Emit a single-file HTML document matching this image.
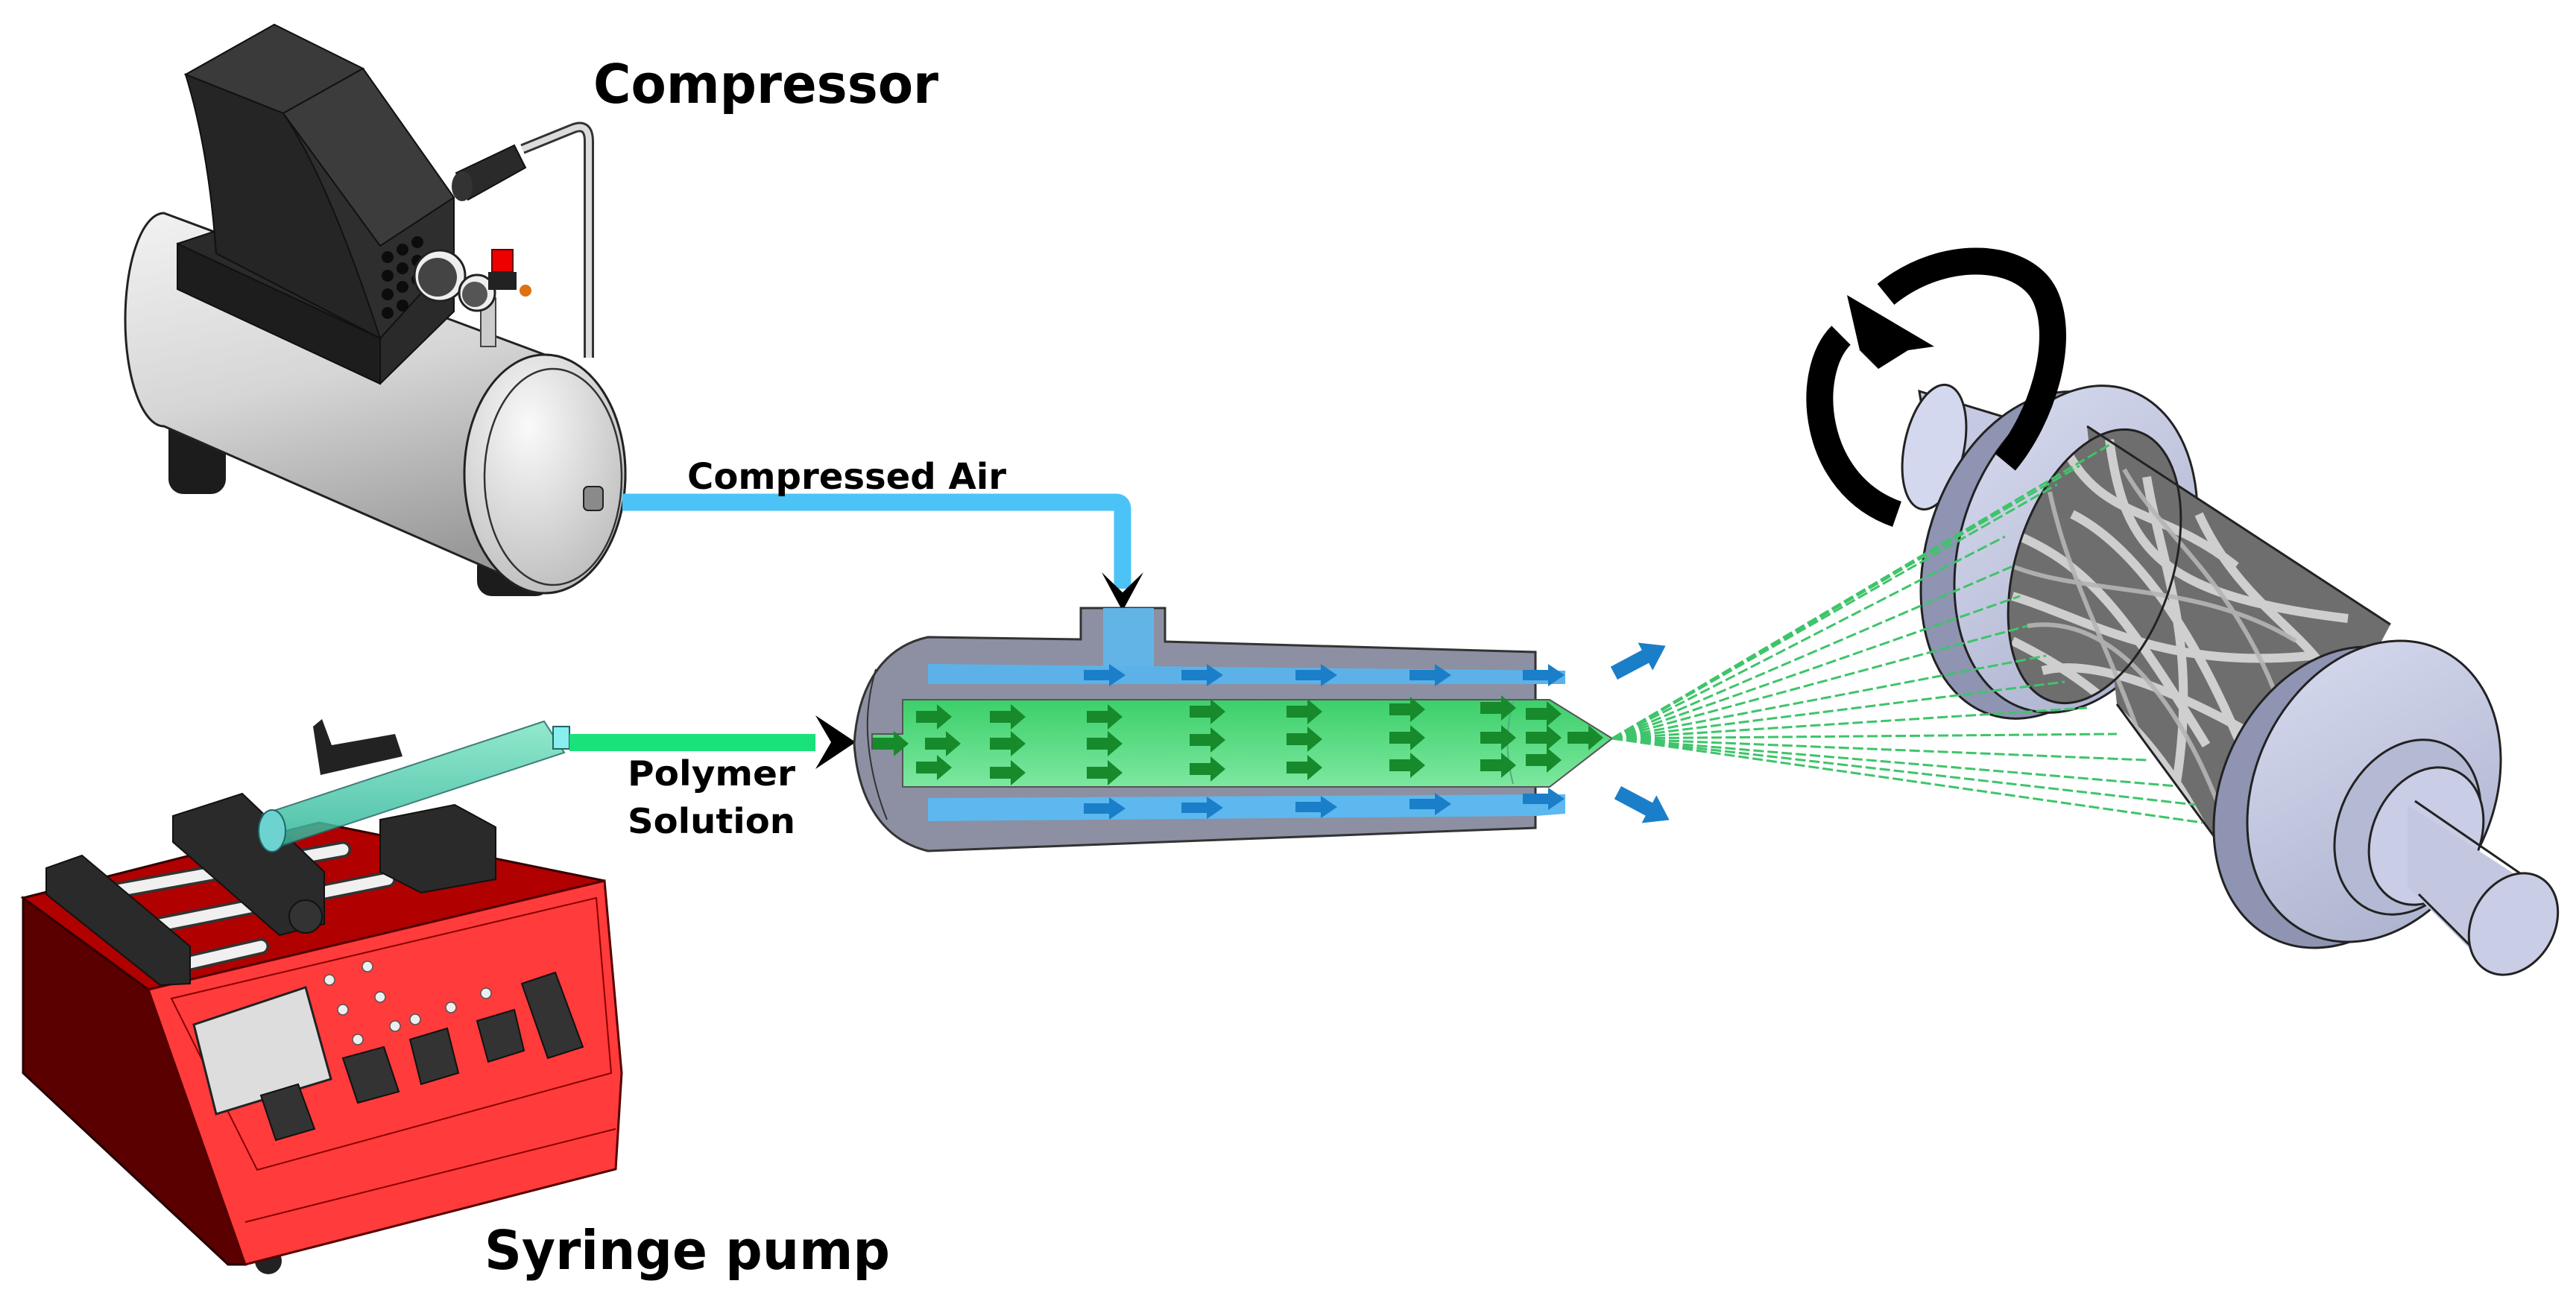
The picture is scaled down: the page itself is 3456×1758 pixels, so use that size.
<!DOCTYPE html>
<html><head><meta charset="utf-8"><style>
html,body{margin:0;padding:0;background:#fff}
svg{display:block}
text{font-family:"DejaVu Sans","Liberation Sans",sans-serif;font-weight:bold;fill:#000}
</style></head><body>
<svg width="3456" height="1758" viewBox="0 0 3456 1758" xmlns="http://www.w3.org/2000/svg">
<defs>
<linearGradient id="tank" x1="0" y1="0" x2="0.3" y2="1"><stop offset="0" stop-color="#f2f2f2"/><stop offset="0.5" stop-color="#d6d6d6"/><stop offset="1" stop-color="#9a9a9a"/></linearGradient>
<radialGradient id="tankend" cx="0.4" cy="0.3" r="0.8"><stop offset="0" stop-color="#fafafa"/><stop offset="1" stop-color="#b8b8b8"/></radialGradient>
<linearGradient id="green" x1="0" y1="0" x2="0" y2="1"><stop offset="0" stop-color="#3ccf6a"/><stop offset="1" stop-color="#7de8a0"/></linearGradient>
<linearGradient id="drum" x1="0" y1="0" x2="1" y2="1"><stop offset="0" stop-color="#d8dcf0"/><stop offset="1" stop-color="#a9aecb"/></linearGradient>
<linearGradient id="syr" x1="0" y1="0" x2="0" y2="1"><stop offset="0" stop-color="#7fe6c4"/><stop offset="1" stop-color="#2fb59a"/></linearGradient>
<clipPath id="bodyclip">
<ellipse cx="2810" cy="760" rx="105" ry="190" transform="rotate(18 2810 760)"/>
<path d="M2800,572 L3207,838 L3020,1190 L2840,945 Z"/>
</clipPath>
<g id="ga"><path d="M-24,-8 L4,-8 L4,-17 L24,0 L4,17 L4,8 L-24,8 Z" fill="#178a2c"/></g>
<g id="ba"><path d="M-28,-7 L6,-7 L6,-15 L28,0 L6,15 L6,7 L-28,7 Z" fill="#1a7fc8"/></g>
</defs>

<!-- ============ COMPRESSOR ============ -->
<rect x="226" y="540" width="77" height="123" rx="20" fill="#1c1c1c"/>
<rect x="640" y="740" width="99" height="60" rx="20" fill="#1c1c1c"/>
<path d="M220,286 L731,476 A108,160 0 0 1 731,796 L220,572 A52,143 0 0 1 220,286 Z" fill="url(#tank)" stroke="#222" stroke-width="3"/>
<ellipse cx="731" cy="636" rx="108" ry="160" fill="url(#tankend)" stroke="#222" stroke-width="3"/>
<ellipse cx="742" cy="640" rx="92" ry="145" fill="none" stroke="#333" stroke-width="2.5"/>
<rect x="783" y="653" width="26" height="32" rx="6" fill="#8a8a8a" stroke="#222" stroke-width="2"/>
<path d="M701,200 L770,172 Q790,165 790,190 L790,480" fill="none" stroke="#333" stroke-width="14"/>
<path d="M701,200 L770,172 Q790,165 790,190 L790,480" fill="none" stroke="#dcdcdc" stroke-width="8"/>
<path d="M238,327 L410,270 L609,340 L609,418 L510,515 L238,388 Z" fill="#2a2a2a" stroke="#111" stroke-width="2"/>
<path d="M238,327 L510,454 L510,515 L238,388 Z" fill="#1d1d1d" stroke="#111" stroke-width="2"/>
<path d="M249,100 L368,33 L487,92 L609,265 L609,345 L510,454 L290,340 Q280,200 249,100 Z" fill="#2e2e2e" stroke="#111" stroke-width="2"/>
<path d="M249,100 L368,33 L487,92 L380,152 Z" fill="#3a3a3a" stroke="#111" stroke-width="2"/>
<path d="M380,152 L487,92 L609,265 L510,330 Z" fill="#3c3c3c" stroke="#111" stroke-width="2"/>
<path d="M249,100 L380,152 Q440,240 510,454 L290,340 Q280,200 249,100 Z" fill="#252525" stroke="#111" stroke-width="2"/>
<g fill="#0c0c0c">
<circle cx="520" cy="345" r="8"/><circle cx="540" cy="335" r="8"/><circle cx="560" cy="325" r="8"/>
<circle cx="520" cy="370" r="8"/><circle cx="540" cy="360" r="8"/><circle cx="560" cy="350" r="8"/>
<circle cx="520" cy="395" r="8"/><circle cx="540" cy="385" r="8"/><circle cx="560" cy="375" r="8"/>
<circle cx="520" cy="420" r="8"/><circle cx="540" cy="410" r="8"/>
</g>
<path d="M612,232 L690,195 L705,225 L628,268 Z" fill="#2a2a2a" stroke="#111" stroke-width="2"/>
<ellipse cx="620" cy="250" rx="14" ry="20" fill="#333"/>
<circle cx="590" cy="370" r="34" fill="#eee" stroke="#222" stroke-width="3"/>
<circle cx="587" cy="372" r="26" fill="#444"/>
<rect x="645" y="400" width="20" height="65" fill="#ccc" stroke="#444" stroke-width="2"/>
<circle cx="640" cy="393" r="24" fill="#eee" stroke="#222" stroke-width="3"/>
<circle cx="637" cy="395" r="17" fill="#555"/>
<rect x="660" y="335" width="28" height="30" fill="#e00" stroke="#600" stroke-width="2"/>
<rect x="655" y="365" width="38" height="24" fill="#222"/>
<circle cx="705" cy="390" r="8" fill="#e07010"/>

<text x="796" y="138" font-size="72" textLength="463" lengthAdjust="spacingAndGlyphs">Compressor</text>

<path d="M835,674 L1497,674 Q1506,674 1506,684 L1506,790" fill="none" stroke="#4cc3f7" stroke-width="23"/>
<path d="M1478,768 L1506,795 L1534,768 L1506,820 Z" fill="#000"/>
<text x="922" y="656" font-size="48" textLength="428" lengthAdjust="spacingAndGlyphs">Compressed Air</text>

<!-- ============ SYRINGE PUMP ============ -->
<circle cx="360" cy="1692" r="18" fill="#222"/><circle cx="735" cy="1548" r="18" fill="#222"/>
<path d="M31,1205 L199,1328 L329,1697 L306,1697 L31,1440 Z" fill="#5a0000" stroke="#220000" stroke-width="3"/>
<path d="M31,1205 L428,1104 L811,1182 L199,1328 Z" fill="#b00000" stroke="#300" stroke-width="3"/>
<path d="M199,1328 L811,1182 L834,1440 L826,1569 L329,1697 Z" fill="#ff3b3b" stroke="#500" stroke-width="3"/>
<path d="M230,1340 L800,1205 L820,1440 L345,1570 Z" fill="none" stroke="#800" stroke-width="2"/>
<path d="M329,1640 L826,1515" stroke="#800" stroke-width="2"/>
<path d="M260,1375 L410,1325 L444,1448 L290,1495 Z" fill="#ddd" stroke="#222" stroke-width="3"/>
<g fill="#333" stroke="#111" stroke-width="2">
<path d="M350,1470 L400,1455 L422,1515 L370,1530 Z"/>
<path d="M460,1420 L515,1405 L535,1465 L480,1480 Z"/>
<path d="M550,1395 L600,1380 L615,1440 L565,1455 Z"/>
<path d="M640,1370 L690,1355 L703,1410 L655,1425 Z"/>
<path d="M700,1320 L745,1305 L782,1405 L735,1420 Z"/>
</g>
<g fill="#eee" stroke="#555" stroke-width="1.5">
<circle cx="442" cy="1315" r="7"/><circle cx="493" cy="1297" r="7"/><circle cx="460" cy="1355" r="7"/><circle cx="510" cy="1338" r="7"/>
<circle cx="480" cy="1395" r="7"/><circle cx="530" cy="1377" r="7"/><circle cx="557" cy="1368" r="7"/><circle cx="605" cy="1352" r="7"/><circle cx="652" cy="1333" r="7"/>
</g>
<g stroke="#333" stroke-width="22" stroke-linecap="round"><line x1="130" y1="1200" x2="460" y2="1140"/><line x1="170" y1="1250" x2="520" y2="1180"/><line x1="220" y1="1300" x2="350" y2="1270"/></g>
<g stroke="#f0f0f0" stroke-width="15" stroke-linecap="round"><line x1="130" y1="1200" x2="460" y2="1140"/><line x1="170" y1="1250" x2="520" y2="1180"/><line x1="220" y1="1300" x2="350" y2="1270"/></g>
<path d="M62,1165 L110,1148 L255,1270 L255,1320 L215,1322 L62,1200 Z" fill="#2a2a2a" stroke="#111" stroke-width="2"/>
<path d="M232,1095 L325,1065 L435,1170 L435,1240 L375,1255 L232,1130 Z" fill="#2a2a2a" stroke="#111" stroke-width="2"/>
<circle cx="410" cy="1230" r="22" fill="#333" stroke="#111" stroke-width="2"/>
<path d="M510,1100 L610,1080 L665,1110 L665,1180 L565,1198 L510,1170 Z" fill="#2a2a2a" stroke="#111" stroke-width="2"/>
<path d="M420,975 L432,965 L445,1000 L530,985 L540,1015 L430,1040 Z" fill="#222"/>
<path d="M352,1093 L730,968 L757,1010 L378,1135 Z" fill="url(#syr)" opacity="0.85" stroke="#266" stroke-width="2"/>
<ellipse cx="365" cy="1115" rx="18" ry="28" fill="#6cd3d0" stroke="#266" stroke-width="2"/>
<rect x="742" y="975" width="22" height="30" fill="#8ee" stroke="#266" stroke-width="2"/>

<rect x="764" y="985" width="330" height="23" fill="#19e27a"/>
<path d="M1094,960 L1148,996 L1094,1032 L1115,996 Z" fill="#000"/>
<text x="842" y="1054" font-size="46" textLength="225" lengthAdjust="spacingAndGlyphs">Polymer</text>
<text x="842" y="1118" font-size="46" textLength="225" lengthAdjust="spacingAndGlyphs">Solution</text>
<text x="650" y="1703" font-size="72" textLength="544" lengthAdjust="spacingAndGlyphs">Syringe pump</text>

<!-- ============ NOZZLE ============ -->
<path d="M1245,855 L1450,858 L1450,816 L1563,816 L1563,861 L2060,875 L2060,1111 L1245,1142 C1175,1125 1150,1060 1146,998 C1150,935 1175,870 1245,855 Z" fill="#8c90a2" stroke="#333" stroke-width="3"/>
<rect x="1480" y="816" width="68" height="90" fill="#63b4e6"/>
<path d="M1245,891 L2100,900 L2100,918 L1245,918 Z" fill="#5cb2e8"/>
<path d="M1245,1071 L2100,1066 L2100,1092 L2060,1095 L1245,1102 Z" fill="#5cb8ee"/>
<path d="M1211,939 L2079,939 L2163,991 L2079,1056 L1211,1056 L1211,1005 L1170,1005 L1170,985 L1211,985 Z" fill="url(#green)" stroke="#555" stroke-width="2"/>
<path d="M1175,898 Q1160,950 1165,998 Q1170,1050 1190,1100" fill="none" stroke="#333" stroke-width="2"/>
<path d="M2030,942 Q2015,995 2030,1052" fill="none" stroke="#5a8" stroke-width="2"/>
<g>
<use href="#ga" x="1253" y="962"/><use href="#ga" x="1352" y="962"/><use href="#ga" x="1482" y="962"/><use href="#ga" x="1620" y="955"/><use href="#ga" x="1750" y="955"/><use href="#ga" x="1888" y="952"/><use href="#ga" x="2010" y="950"/><use href="#ga" x="2071" y="958"/>
<use href="#ga" x="1195" y="998"/><use href="#ga" x="1265" y="998"/><use href="#ga" x="1352" y="998"/><use href="#ga" x="1482" y="998"/><use href="#ga" x="1620" y="993"/><use href="#ga" x="1750" y="992"/><use href="#ga" x="1888" y="990"/><use href="#ga" x="2010" y="990"/><use href="#ga" x="2071" y="990"/><use href="#ga" x="2127" y="990"/>
<use href="#ga" x="1253" y="1030"/><use href="#ga" x="1352" y="1037"/><use href="#ga" x="1482" y="1037"/><use href="#ga" x="1620" y="1032"/><use href="#ga" x="1750" y="1030"/><use href="#ga" x="1888" y="1027"/><use href="#ga" x="2010" y="1027"/><use href="#ga" x="2071" y="1020"/>
</g>
<g>
<use href="#ba" x="1482" y="906"/><use href="#ba" x="1613" y="906"/><use href="#ba" x="1766" y="906"/><use href="#ba" x="1919" y="906"/><use href="#ba" x="2071" y="906"/>
<use href="#ba" x="1482" y="1085"/><use href="#ba" x="1613" y="1084"/><use href="#ba" x="1766" y="1083"/><use href="#ba" x="1919" y="1079"/><use href="#ba" x="2071" y="1072"/>
<use href="#ba" transform="translate(2200,885) rotate(-28) scale(1.4)"/>
<use href="#ba" transform="translate(2205,1082) rotate(28) scale(1.4)"/>
</g>

<!-- ============ DRUM ============ -->
<path d="M2545,690 C2430,650 2420,500 2470,450" fill="none" stroke="#000" stroke-width="36"/>
<path d="M2575,525 L2690,560 L2700,690 L2600,680 Z" fill="#c5c9e2" stroke="#222" stroke-width="3"/>
<ellipse cx="2595" cy="600" rx="40" ry="85" transform="rotate(12 2595 600)" fill="#d4d8ee" stroke="#222" stroke-width="3"/>
<ellipse cx="2740" cy="745" rx="155" ry="225" transform="rotate(18 2740 745)" fill="#8e94b2" stroke="#222" stroke-width="3"/>
<ellipse cx="2785" cy="737" rx="155" ry="225" transform="rotate(18 2785 737)" fill="url(#drum)" stroke="#222" stroke-width="3"/>
<g clip-path="url(#bodyclip)">
<rect x="2650" y="520" width="600" height="700" fill="#6e6e6e"/>
<g fill="none" stroke="#e0e0e0" stroke-width="12" opacity="0.85">
<path d="M2700,800 C2800,830 2900,900 3100,880"/>
<path d="M2710,720 C2800,760 2850,820 2960,1000"/>
<path d="M2770,600 C2820,700 2900,680 3000,760"/>
<path d="M2700,860 C2780,900 2880,960 2960,1120"/>
<path d="M2830,590 C2850,740 2900,800 3150,830"/>
<path d="M2740,900 C2820,880 2950,940 3080,1020"/>
<path d="M2880,640 C2900,760 2950,860 2920,1050"/>
<path d="M2950,690 C3000,800 3080,840 3120,900"/>
<path d="M2780,690 C2880,740 2980,900 3050,1120"/>
</g>
<g fill="none" stroke="#b5b5b5" stroke-width="6" opacity="0.9">
<path d="M2700,760 C2800,800 2950,780 3080,860"/>
<path d="M2750,660 C2780,800 2850,900 2900,1080"/>
<path d="M2850,630 C2900,720 3000,780 3060,950"/>
<path d="M2720,840 C2850,820 2950,980 3000,1150"/>
</g>
</g>
<ellipse cx="2810" cy="760" rx="105" ry="190" transform="rotate(18 2810 760)" fill="none" stroke="#222" stroke-width="3"/>
<path d="M2800,572 L3207,838 M2840,945 L3020,1190" stroke="#222" stroke-width="3"/>
<g stroke="#3ec46a" stroke-width="3" stroke-dasharray="14,5" fill="none">
<line x1="2163" y1="991" x2="2830" y2="597"/>
<line x1="2163" y1="991" x2="2790" y2="625"/>
<line x1="2163" y1="991" x2="2760" y2="650"/>
<line x1="2163" y1="991" x2="2700" y2="675"/>
<line x1="2163" y1="991" x2="2690" y2="720"/>
<line x1="2163" y1="991" x2="2700" y2="760"/>
<line x1="2163" y1="991" x2="2710" y2="800"/>
<line x1="2163" y1="991" x2="2720" y2="840"/>
<line x1="2163" y1="991" x2="2745" y2="880"/>
<line x1="2163" y1="991" x2="2770" y2="915"/>
<line x1="2163" y1="991" x2="2800" y2="950"/>
<line x1="2163" y1="991" x2="2840" y2="985"/>
<line x1="2163" y1="991" x2="2880" y2="1020"/>
<line x1="2163" y1="991" x2="2920" y2="1055"/>
<line x1="2163" y1="991" x2="2945" y2="1080"/>
<line x1="2163" y1="991" x2="2955" y2="1104"/>
</g>
<ellipse cx="3140" cy="1070" rx="160" ry="210" transform="rotate(25 3140 1070)" fill="#8e94b2" stroke="#222" stroke-width="3"/>
<ellipse cx="3185" cy="1062" rx="160" ry="210" transform="rotate(25 3185 1062)" fill="url(#drum)" stroke="#222" stroke-width="3"/>
<ellipse cx="3230" cy="1110" rx="92" ry="122" transform="rotate(25 3230 1110)" fill="#b4b9d4" stroke="#222" stroke-width="3"/>
<ellipse cx="3255" cy="1122" rx="72" ry="96" transform="rotate(25 3255 1122)" fill="#c9cde6" stroke="#222" stroke-width="3"/>
<path d="M3230,1080 L3400,1190 L3340,1300 L3230,1190 Z" fill="#c3c7e0"/>
<path d="M3240,1075 L3400,1185 M3245,1200 L3345,1300" stroke="#222" stroke-width="3"/>
<ellipse cx="3372" cy="1240" rx="55" ry="72" transform="rotate(30 3372 1240)" fill="#c9cde6" stroke="#222" stroke-width="3"/>

<path d="M2530,395 C2610,330 2720,340 2745,400 C2770,460 2740,560 2690,620" fill="none" stroke="#000" stroke-width="36"/>
<path d="M2478,396 L2595,465 L2560,470 L2520,495 L2495,470 Z" fill="#000"/>
</svg>
</body></html>
